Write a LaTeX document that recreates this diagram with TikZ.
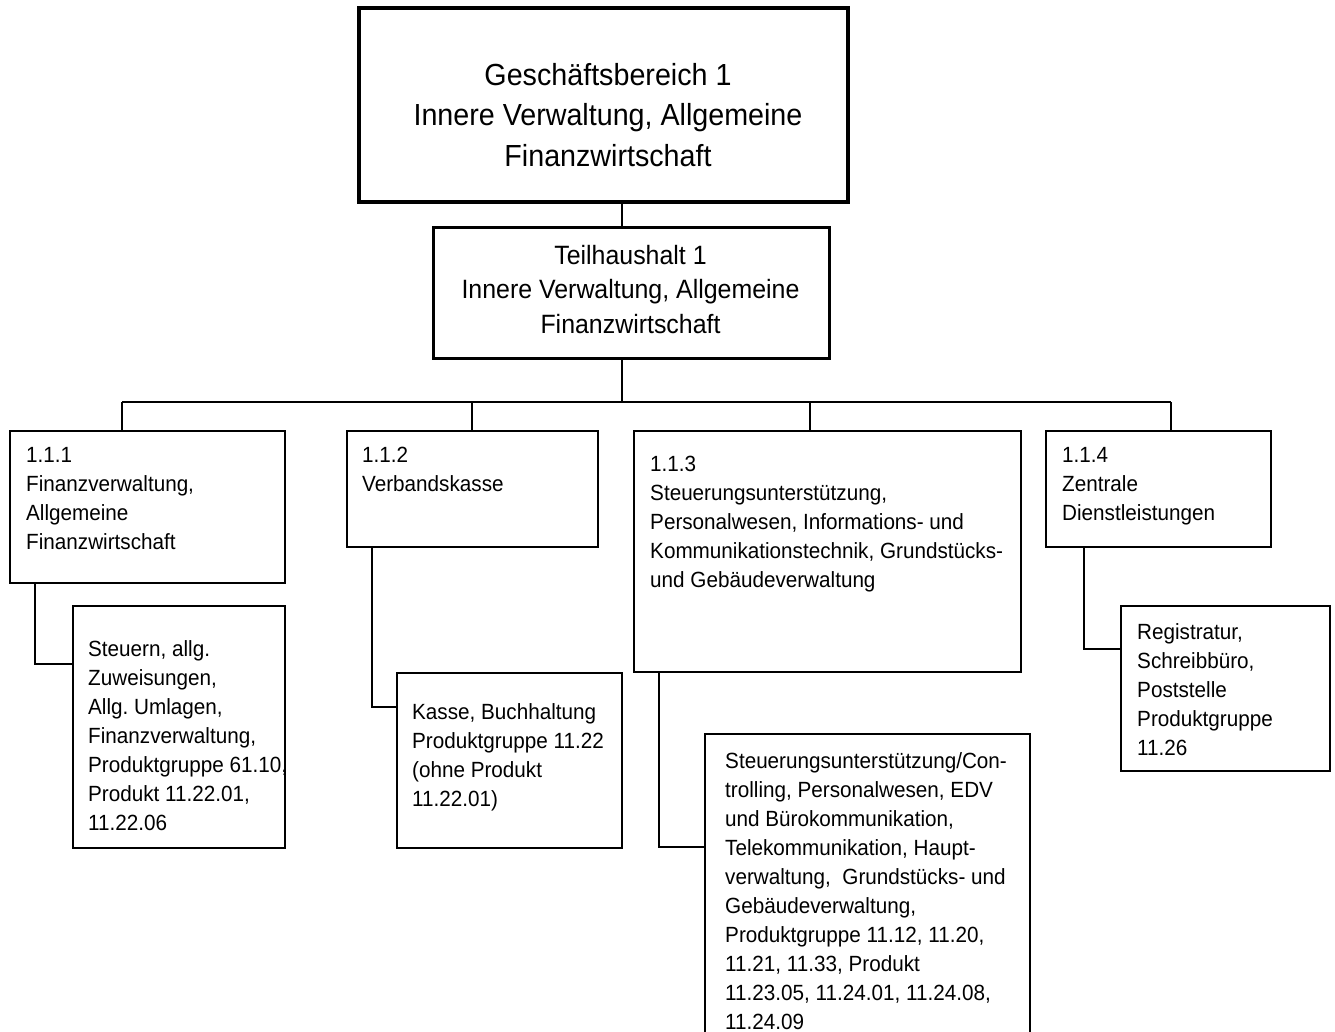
\documentclass[tikz,border=0pt]{standalone}
\usepackage{fontspec}
\setmainfont[FakeStretch=0.94]{Liberation Sans}

\begin{document}
\begin{tikzpicture}[x=1pt, y=-1pt,
    box/.style={draw, line width=1.3pt, inner sep=0pt, outer sep=0pt, anchor=north west},
    txt/.style={inner sep=0pt, anchor=north west, align=left, font=\fontsize{22}{29}\selectfont},
    link/.style={line width=1.3pt}]
    \useasboundingbox (0,0) rectangle (1335,1032);
    \clip (0,0) rectangle (1335,1032);

    % Geschaeftsbereich and Teilhaushalt
    \node[box, line width=4pt, minimum width=489pt, minimum height=194pt] (gb) at (359,8) {};
    \node[txt, anchor=north, align=center, font=\fontsize{30.5}{40.5}\selectfont] (gb-t) at (608,63)
        {Geschäftsbereich 1\\Innere Verwaltung, Allgemeine\\Finanzwirtschaft};
    \node[box, line width=3pt, minimum width=396pt, minimum height=130pt] (th) at (433,228) {};
    \node[txt, anchor=north, align=center, font=\fontsize{26.5}{34.5}\selectfont] (th-t) at (630.5,245)
        {Teilhaushalt 1\\Innere Verwaltung, Allgemeine\\Finanzwirtschaft};

    % Produktbereiche
    \node[box, minimum width=275pt, minimum height=152pt] (b1) at (10,431) {};
    \node[box, minimum width=251pt, minimum height=116pt] (b2) at (347,431) {};
    \node[box, minimum width=387pt, minimum height=241pt] (b3) at (634,431) {};
    \node[box, minimum width=225pt, minimum height=116pt] (b4) at (1046,431) {};
    \node[txt] (b1-t) at (26,447) {1.1.1\\Finanzverwaltung,\\Allgemeine\\Finanzwirtschaft};
    \node[txt] (b2-t) at (362,447) {1.1.2\\Verbandskasse};
    \node[txt] (b3-t) at (650,456) {1.1.3\\Steuerungsunterstützung,\\Personalwesen, Informations- und\\Kommunikationstechnik, Grundstücks-\\und Gebäudeverwaltung};
    \node[txt] (b4-t) at (1062,447) {1.1.4\\Zentrale\\Dienstleistungen};

    % Produktgruppen
    \node[box, minimum width=212pt, minimum height=242pt] (s1) at (73,606) {};
    \node[box, minimum width=225pt, minimum height=175pt] (s2) at (397,673) {};
    \node[box, minimum width=325pt, minimum height=320pt] (s3) at (705,734) {};
    \node[box, minimum width=209pt, minimum height=165pt] (s4) at (1121,606) {};
    \node[txt] (s1-t) at (88,640) {Steuern, allg.\\Zuweisungen,\\Allg.\ Umlagen,\\Finanzverwaltung,\\Produktgruppe 61.10,\\Produkt 11.22.01,\\11.22.06};
    \node[txt] (s2-t) at (412,703) {Kasse, Buchhaltung\\Produktgruppe 11.22\\(ohne Produkt\\11.22.01)};
    \node[txt] (s3-t) at (725,752) {Steuerungsunterstützung/Con-\\trolling, Personalwesen, EDV\\und Bürokommunikation,\\Telekommunikation, Haupt-\\verwaltung,\ \ Grundstücks- und\\Gebäudeverwaltung,\\Produktgruppe 11.12, 11.20,\\11.21, 11.33, Produkt\\11.23.05, 11.24.01, 11.24.08,\\11.24.09};
    \node[txt] (s4-t) at (1137,623) {Registratur,\\Schreibbüro,\\Poststelle\\Produktgruppe\\11.26};

    % connectors
    \coordinate (trunk) at (622,402);
    \coordinate (d1) at (122,402);
    \coordinate (d2) at (472,402);
    \coordinate (d3) at (810,402);
    \coordinate (d4) at (1171,402);
    \coordinate (e1) at (35,664);
    \coordinate (e2) at (372,707);
    \coordinate (e3) at (659,847);
    \coordinate (e4) at (1084,649);
    \draw[link] (gb.south -| trunk) -- (th.north -| trunk);
    \draw[link] (th.south -| trunk) -- (trunk);
    \draw[link] (d1) -- (d4);
    \foreach \i in {1,...,4} {
        \draw[link] (d\i) -- (d\i |- b\i.north);
        \draw[link] (b\i.south -| e\i) -- (e\i) -- (e\i -| s\i.west);
    }
\end{tikzpicture}
\end{document}
